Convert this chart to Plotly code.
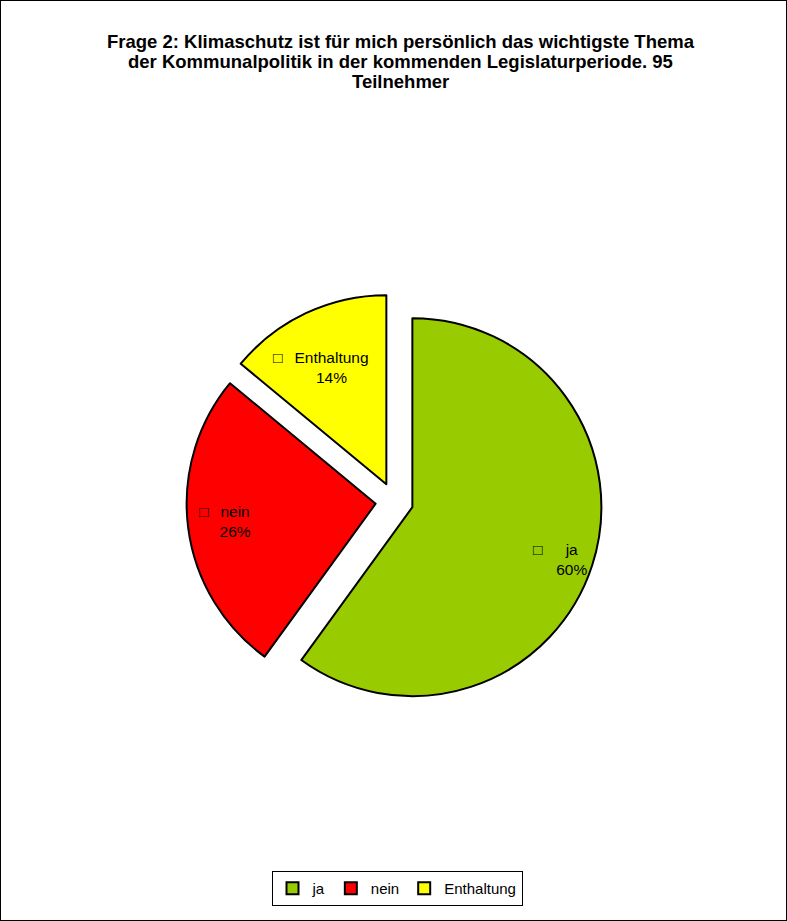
import math
import plotly.graph_objects as go

labels = ["ja", "nein", "Enthaltung"]
values = [60, 26, 14]
colors = ["#99CC00", "#FF0000", "#FFFF00"]
title_lines = [
    "Frage 2: Klimaschutz ist für mich persönlich das wichtigste Thema",
    "der Kommunalpolitik in der kommenden Legislaturperiode. 95",
    "Teilnehmer",
]

W, H = 787, 921
cx, cy = 394.4, 501.3          # pie centre (px)
R = 189                         # pie radius (px)
PULL = 0.1
half = R * (1 + PULL)
FONT = "Liberation Sans, Arial"

fig = go.Figure(go.Pie(
    labels=labels, values=values, sort=False, direction="clockwise", rotation=0,
    pull=[PULL] * len(values),
    marker=dict(colors=colors, line=dict(color="black", width=2)),
    textinfo="none",
    domain=dict(x=[(cx - half) / W, (cx + half) / W],
                y=[(H - cy - half) / H, (H - cy + half) / H]),
    hoverinfo="skip",
))

# slice labels placed along each slice's mid-angle
label_frac = [0.89, 0.75, 0.68]
label_gap = ["\u2003\u2002", "\u2002 ", "\u2002 "]
total = sum(values)
annotations = []
cum = 0
for lab, v, fr, gap in zip(labels, values, label_frac, label_gap):
    mid = (cum + v / 2) / total * 2 * math.pi
    cum += v
    dx, dy = math.sin(mid), -math.cos(mid)
    px = cx + (PULL + fr) * R * dx
    py = cy + (PULL + fr) * R * dy
    pct = round(v / total * 100)
    txt = ("<b>□</b>" + gap + lab + gap + "<span style='color:rgba(0,0,0,0)'><b>□</b></span>"
           + "<br>" + f"{pct}%")
    annotations.append(dict(text=txt, x=px / W, y=1 - py / H, xref="paper", yref="paper",
                            xanchor="center", yanchor="middle", showarrow=False,
                            font=dict(size=15.5, family=FONT, color="black")))

for i, line in enumerate(title_lines):
    annotations.append(dict(text="<b>" + line + "</b>", x=401 / W, y=1 - (41 + 20 * i) / H,
                            xref="paper", yref="paper", xanchor="center", yanchor="middle",
                            showarrow=False, font=dict(size=18.5, family=FONT, color="black")))

fig.update_layout(
    width=W, height=H,
    margin=dict(l=0, r=0, t=0, b=0),
    paper_bgcolor="white", plot_bgcolor="white",
    font=dict(family=FONT, color="black"),
    showlegend=True,
    legend=dict(orientation="h", x=397 / W, xanchor="center", y=15 / H, yanchor="bottom",
                bordercolor="black", borderwidth=1, font=dict(size=15),
                itemwidth=30, traceorder="normal"),
    annotations=annotations,
    shapes=[dict(type="rect", xref="paper", yref="paper", x0=0, y0=0, x1=1, y1=1,
                 line=dict(color="black", width=2))],
)

fig.write_html("out.html", config={"displayModeBar": False},
               post_script="document.body.style.margin='0';")
